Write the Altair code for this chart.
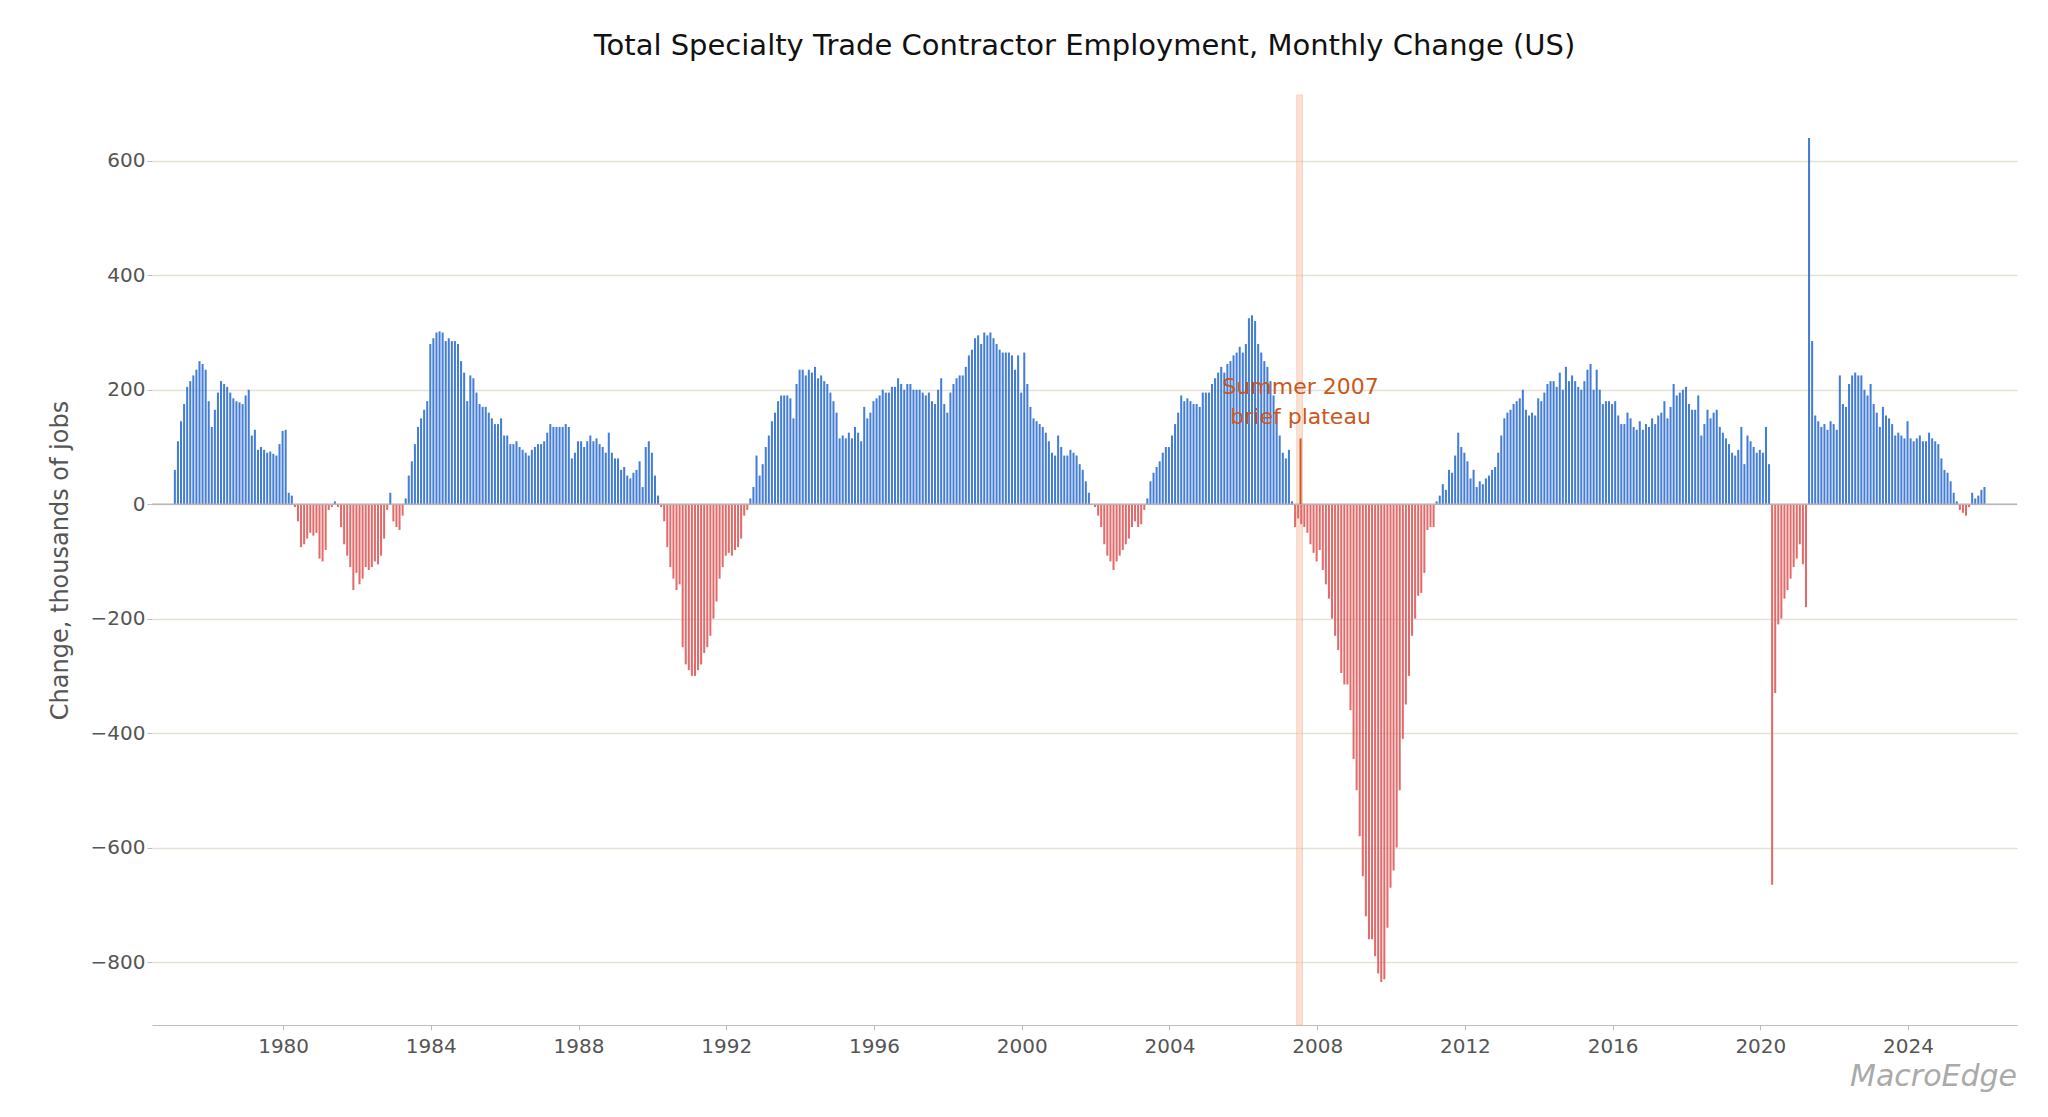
"""Specialty trade contractor employment, monthly change (US) - bar chart."""

import altair as alt
import pandas as pd

_BLUE = "#2f6fd2"
_RED = "#e05a5a"
_ACCENT = "#c8581e"
_GRID = "#e4e1d6"

START_YEAR = 1977

# thousands of jobs, Jan..Dec per year
v1977 = [60, 110, 145, 175, 205, 215, 225, 235, 250, 245, 235, 180]
v1978 = [135, 165, 195, 215, 210, 205, 195, 185, 180, 178, 175, 190]
v1979 = [200, 120, 130, 95, 100, 95, 90, 92, 88, 85, 105, 128]
v1980 = [130, 20, 15, -5, -30, -75, -70, -60, -50, -55, -50, -95]
v1981 = [-100, -80, -10, -5, 5, -5, -40, -70, -90, -110, -150, -120]
v1982 = [-140, -130, -110, -115, -110, -100, -105, -90, -60, -10, 20, -30]
v1983 = [-40, -45, -20, 10, 50, 75, 105, 135, 150, 165, 180, 280]
v1984 = [290, 300, 302, 300, 285, 290, 285, 285, 280, 250, 230, 180]
v1985 = [225, 220, 195, 175, 170, 170, 160, 150, 140, 140, 150, 120]
v1986 = [120, 105, 105, 110, 100, 95, 90, 85, 95, 100, 105, 105]
v1987 = [110, 125, 140, 135, 135, 135, 135, 140, 135, 80, 90, 110]
v1988 = [110, 100, 110, 120, 110, 115, 105, 100, 90, 125, 90, 80]
v1989 = [80, 60, 65, 50, 45, 55, 60, 75, 30, 100, 110, 90]
v1990 = [50, 15, -5, -30, -75, -110, -130, -150, -140, -250, -280, -290]
v1991 = [-300, -300, -290, -280, -260, -250, -230, -200, -170, -130, -110, -90]
v1992 = [-85, -90, -80, -75, -60, -20, -10, 10, 30, 85, 50, 70]
v1993 = [100, 120, 145, 160, 180, 190, 190, 190, 185, 150, 210, 235]
v1994 = [235, 225, 235, 230, 240, 220, 225, 215, 210, 195, 180, 160]
v1995 = [115, 120, 115, 125, 115, 135, 125, 110, 170, 150, 160, 180]
v1996 = [185, 190, 200, 195, 195, 205, 205, 220, 210, 200, 210, 210]
v1997 = [200, 200, 200, 195, 190, 195, 180, 175, 200, 220, 175, 160]
v1998 = [195, 210, 220, 225, 225, 240, 260, 270, 290, 295, 280, 300]
v1999 = [295, 300, 290, 280, 270, 265, 265, 265, 260, 235, 260, 195]
v2000 = [265, 210, 170, 150, 145, 140, 135, 125, 110, 90, 85, 120]
v2001 = [100, 85, 85, 95, 90, 85, 70, 60, 40, 20, 0, -5]
v2002 = [-20, -40, -70, -90, -100, -115, -100, -90, -80, -70, -60, -40]
v2003 = [-30, -40, -35, -10, 10, 40, 55, 65, 75, 90, 100, 100]
v2004 = [120, 140, 160, 190, 180, 185, 180, 175, 175, 170, 195, 195]
v2005 = [195, 210, 220, 230, 240, 230, 245, 250, 260, 265, 275, 265]
v2006 = [280, 325, 330, 320, 280, 265, 250, 240, 215, 190, 160, 120]
v2007 = [90, 80, 95, 5, -40, -25, -35, -40, -50, -70, -85, -100]
v2008 = [-80, -115, -140, -165, -200, -230, -255, -295, -315, -315, -360, -445]
v2009 = [-500, -580, -650, -720, -760, -760, -790, -820, -835, -830, -740, -670]
v2010 = [-640, -600, -500, -410, -350, -300, -230, -200, -160, -155, -120, -45]
v2011 = [-40, -40, 5, 15, 35, 25, 60, 55, 85, 125, 100, 90]
v2012 = [75, 45, 60, 30, 40, 35, 45, 50, 60, 65, 90, 120]
v2013 = [150, 160, 165, 175, 180, 185, 200, 165, 155, 160, 155, 185]
v2014 = [180, 195, 210, 215, 215, 205, 230, 200, 240, 215, 225, 215]
v2015 = [205, 200, 215, 235, 245, 200, 235, 200, 175, 180, 180, 175]
v2016 = [180, 155, 140, 140, 160, 150, 135, 130, 145, 130, 140, 135]
v2017 = [150, 140, 155, 160, 180, 150, 170, 210, 190, 195, 200, 205]
v2018 = [175, 165, 165, 190, 120, 140, 165, 150, 160, 165, 135, 125]
v2019 = [115, 105, 90, 85, 95, 135, 70, 120, 110, 100, 90, 95]
v2020 = [90, 135, 70, -665, -330, -210, -200, -165, -150, -130, -110, -95]
v2021 = [-70, -105, -180, 640, 285, 155, 145, 135, 140, 130, 145, 140]
v2022 = [130, 225, 175, 170, 210, 225, 230, 225, 225, 200, 190, 210]
v2023 = [175, 160, 135, 170, 155, 150, 140, 120, 125, 120, 115, 145]
v2024 = [115, 110, 115, 120, 110, 110, 125, 115, 110, 105, 80, 60]
v2025 = [55, 40, 20, 5, -10, -15, -20, -5, 20, 10, 15, 25]
v2026 = [30]

YEARS = [
    v1977, v1978, v1979, v1980, v1981, v1982, v1983, v1984, v1985, v1986,
    v1987, v1988, v1989, v1990, v1991, v1992, v1993, v1994, v1995, v1996,
    v1997, v1998, v1999, v2000, v2001, v2002, v2003, v2004, v2005, v2006,
    v2007, v2008, v2009, v2010, v2011, v2012, v2013, v2014, v2015, v2016,
    v2017, v2018, v2019, v2020, v2021, v2022, v2023, v2024, v2025, v2026,
]

rows = []
for i, vals in enumerate(YEARS):
    for m, v in enumerate(vals):
        rows.append({"t": START_YEAR + i + m / 12 + 1 / 24, "change": v})
df = pd.DataFrame(rows)
df["t2"] = df["t"] + 0.055
df["sign"] = df["change"].map(lambda v: "up" if v >= 0 else "down")

X_DOMAIN = [1976.45, 2026.95]
Y_DOMAIN = [-910, 715]
x_scale = alt.Scale(domain=X_DOMAIN, nice=False, zero=False)
y_scale = alt.Scale(domain=Y_DOMAIN, nice=False)

bars = alt.Chart(df).mark_bar(opacity=0.9).encode(
    x=alt.X(
        "t:Q",
        scale=x_scale,
        title=None,
        axis=alt.Axis(
            values=list(range(1980, 2025, 4)), format="d", grid=False,
            domainColor="#bdbdbd", tickColor="#bdbdbd", labelFontSize=20,
            labelColor="#555", labelPadding=6,
        ),
    ),
    x2="t2:Q",
    y=alt.Y(
        "change:Q",
        scale=y_scale,
        title="Change, thousands of jobs",
        axis=alt.Axis(
            values=list(range(-800, 601, 200)), gridColor=_GRID, gridWidth=1.3,
            domain=False, tickColor="#bdbdbd", labelFontSize=20, labelColor="#555",
            titleFontSize=24, titleFontWeight="normal", titleColor="#555",
            titlePadding=18,
        ),
    ),
    y2=alt.datum(0),
    color=alt.Color(
        "sign:N",
        scale=alt.Scale(domain=["up", "down"], range=[_BLUE, _RED]),
        legend=None,
    ),
)

zero = pd.DataFrame({"x": [X_DOMAIN[0]], "x2": [X_DOMAIN[1]], "y": [0]})
zero_line = alt.Chart(zero).mark_rule(color="#b5b5b5", strokeWidth=1.5).encode(
    x=alt.X("x:Q", scale=x_scale), x2="x2:Q", y=alt.Y("y:Q", scale=y_scale)
)

band = pd.DataFrame({"x": [2007.45], "x2": [2007.6], "y": [-910], "y2": [715]})
highlight = alt.Chart(band).mark_rect(
    color="#f9c9b0", opacity=0.55, stroke="#f2a98a", strokeWidth=1
).encode(
    x=alt.X("x:Q", scale=x_scale), x2="x2:Q",
    y=alt.Y("y:Q", scale=y_scale), y2="y2:Q",
)

marker = pd.DataFrame({"x": [2007.55], "y": [0], "y2": [115]})
marker_line = alt.Chart(marker).mark_rule(color=_ACCENT, strokeWidth=2).encode(
    x=alt.X("x:Q", scale=x_scale), y=alt.Y("y:Q", scale=y_scale), y2="y2:Q"
)

note = pd.DataFrame({"x": [2007.55], "y": [205], "label": [["Summer 2007", "brief plateau"]]})
note_text = alt.Chart(note).mark_text(
    color=_ACCENT, fontSize=22, baseline="middle", lineHeight=30
).encode(x=alt.X("x:Q", scale=x_scale), y=alt.Y("y:Q", scale=y_scale), text="label")

brand = alt.Chart(pd.DataFrame({"label": ["MacroEdge"]})).mark_text(
    color="#aaaaaa", fontSize=30, fontStyle="italic", align="right", baseline="middle"
).encode(x=alt.value(1865), y=alt.value(982), text="label:N")

chart = (
    (highlight + bars + zero_line + marker_line + note_text + brand)
    .properties(
        width=1865,
        height=930,
        padding={"left": 40, "top": 23, "right": 5, "bottom": 5},
        title=alt.TitleParams(
            "Total Specialty Trade Contractor Employment, Monthly Change (US)",
            fontSize=29, fontWeight="normal", color="#111", offset=34,
        ),
    )
    .configure(font="DejaVu Sans", view=alt.ViewConfig(stroke="transparent", strokeWidth=0))
)

chart.save("out.html", embed_options={"renderer": "svg", "actions": False})
